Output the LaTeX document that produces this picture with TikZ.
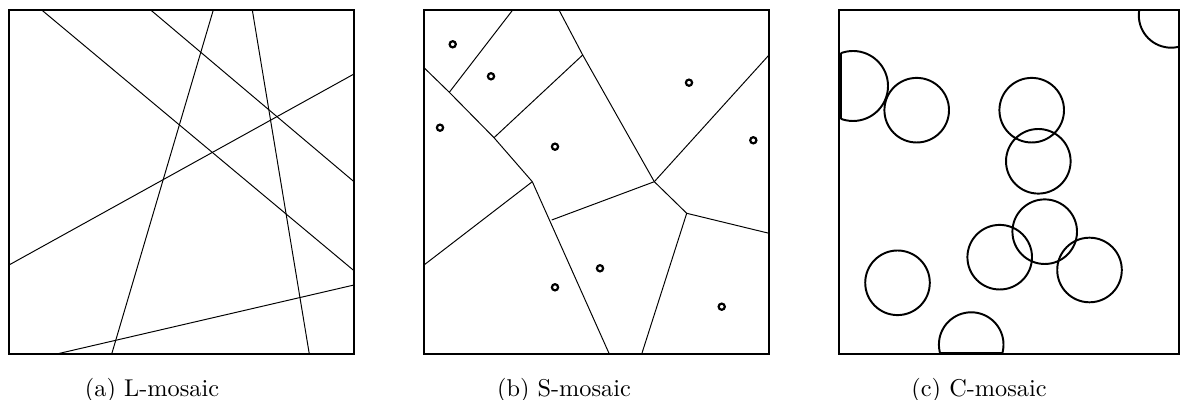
\documentclass[tikz,border=0pt]{standalone}
\tikzset{
  frame/.style={draw, line width=0.8pt},
  seg/.style={draw, line width=0.4pt},
  site/.style={draw, line width=0.9pt},
  disc/.style={draw, line width=0.8pt},
  capt/.style={anchor=base, inner sep=0pt},
}

\begin{document}
\begin{tikzpicture}[x=0.4115pt, y=-0.4115pt]
\useasboundingbox (0,0) rectangle (1180,400);

% (a) lines
\draw[frame] (9,10) rectangle (354,354);
\draw[seg] (41.7,10) -- (354,270.7);
\draw[seg] (150.7,10) -- (354,181.7);
\draw[seg] (213.3,10) -- (111.7,354);
\draw[seg] (252.3,10) -- (309.3,354);
\draw[seg] (9,265) -- (354,74);
\draw[seg] (56.7,354) -- (354,285);
\node[capt] (capa) at (152,396.7) {(a) L-mosaic};

% (b) cells
\draw[frame] (424,10) rectangle (769,354);
\coordinate (t1) at (512.7,10);
\coordinate (t2) at (559,10);
\coordinate (l1) at (424,67.7);
\coordinate (l2) at (424,265);
\coordinate (r1) at (769,55);
\coordinate (r2) at (769,233.3);
\coordinate (b1) at (609.3,354);
\coordinate (b2) at (641.7,354);
\coordinate (va) at (449.3,92.3);
\coordinate (vb) at (494,137.7);
\coordinate (vc) at (532.3,181.7);
\coordinate (vd) at (582.7,55);
\coordinate (ve) at (654.3,181.7);
\coordinate (vf) at (686.7,213.3);
\coordinate (vg) at (551.7,220);

\draw[seg] (t1) -- (va);
\draw[seg] (l1) -- (va) -- (vb) -- (vc);
\draw[seg] (vb) -- (vd);
\draw[seg] (t2) -- (vd) -- (ve);
\draw[seg] (ve) -- (r1);
\draw[seg] (ve) -- (vf) -- (r2);
\draw[seg] (ve) -- (vg);
\draw[seg] (vc) -- (l2);
\draw[seg] (vc) -- (b1);
\draw[seg] (vf) -- (b2);

\foreach \x/\y in {452.7/44.3, 491/76.3, 440/127.7, 555/146.7, 689/82.7,
                   753.3/140.3, 600/268.3, 555/287.3, 721.7/306.7}
  \draw[site] (\x,\y) circle (3.1);
\node[capt] (capb) at (564,396.7) {(b) S-mosaic};

% (c) discs
\draw[frame] (839,10) rectangle (1179,354);
\begin{scope}
  \clip (840.7,10) rectangle (1179,352.7);
  \draw[disc] (853,86) circle (35);
  \foreach \x/\y in {916.7/110.2, 1031.7/110.2, 1038.3/161.3, 1044.7/231.7,
                     999.7/257.2, 1089.5/270, 897.5/282.8, 971.2/344.6, 1171.1/15.4}
    \draw[disc] (\x,\y) circle (32.3);
\end{scope}
\draw[disc] (840.7,53.2) -- (840.7,118.8);
\draw[disc] (939.9,352.7) -- (1002.5,352.7);
\node[capt] (capc) at (979,396.7) {(c) C-mosaic};

\end{tikzpicture}
\end{document}
